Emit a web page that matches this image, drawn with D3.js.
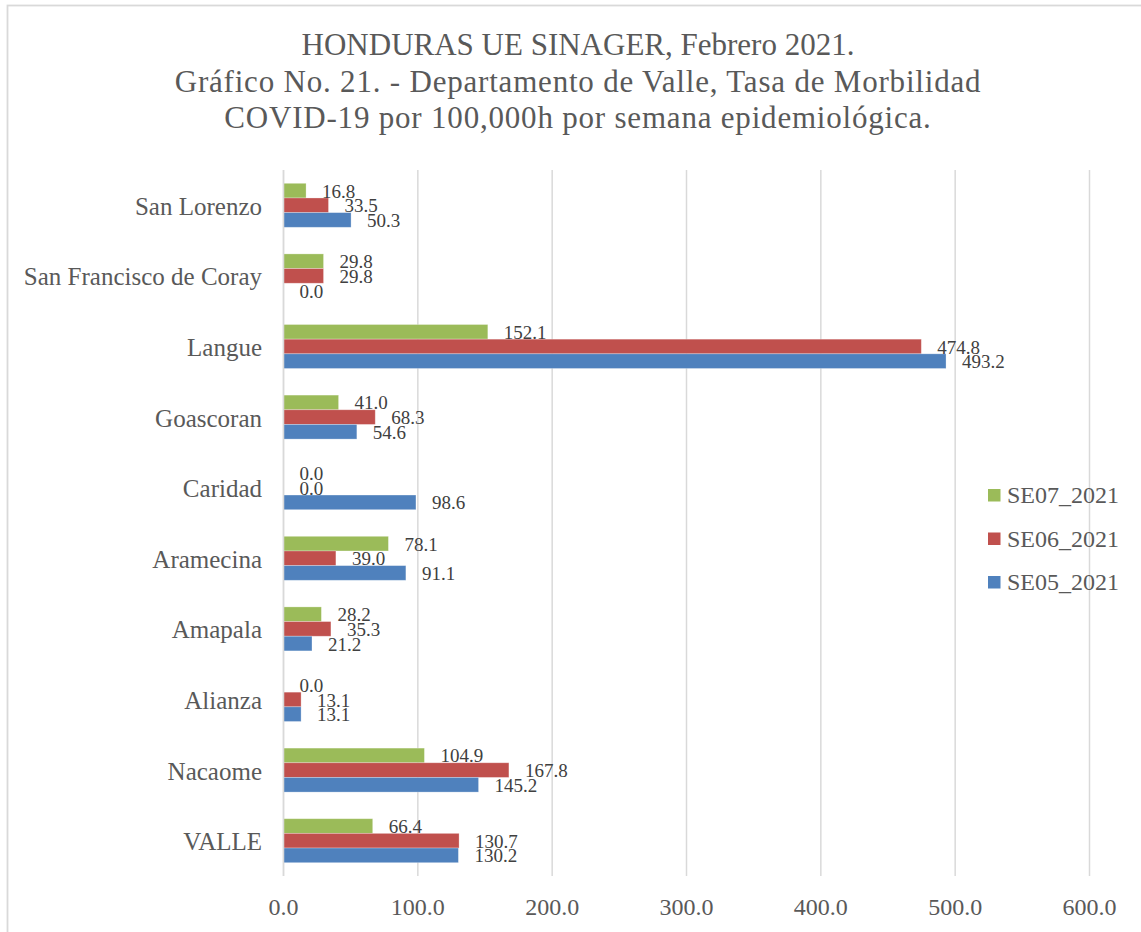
<!DOCTYPE html>
<html>
<head>
<meta charset="utf-8">
<script src="https://cdn.jsdelivr.net/npm/d3@7"></script>
<style>
  html, body { margin: 0; padding: 0; background: #fff; }
  svg { display: block; }
  text { font-family: "Liberation Serif", "DejaVu Serif", serif; }
</style>
</head>
<body>
<svg id="chart" width="1141" height="932"></svg>
<script>
// ---- data ----
const titleLines = [
  "HONDURAS UE SINAGER, Febrero 2021.",
  "Gráfico No. 21. - Departamento de Valle, Tasa de Morbilidad",
  "COVID-19 por 100,000h por semana epidemiológica."
];
// categories listed top to bottom
const categories = ["San Lorenzo", "San Francisco de Coray", "Langue", "Goascoran", "Caridad",
                    "Aramecina", "Amapala", "Alianza", "Nacaome", "VALLE"];
const seriesNames = ["SE07_2021", "SE06_2021", "SE05_2021"];
const se07 = [16.8, 29.8, 152.1, 41.0, 0.0, 78.1, 28.2, 0.0, 104.9, 66.4];
const se06 = [33.5, 29.8, 474.8, 68.3, 0.0, 39.0, 35.3, 13.1, 167.8, 130.7];
const se05 = [50.3, 0.0, 493.2, 54.6, 98.6, 91.1, 21.2, 13.1, 145.2, 130.2];
const xTicks = [0, 100, 200, 300, 400, 500, 600];
const colors = ["#9BBB59", "#C0504D", "#4F81BD"];

const seriesValues = [se07, se06, se05];

const svg = d3.select("#chart");

// outer chart frame
svg.append("rect")
  .attr("x", 7.5).attr("y", 5.5).attr("width", 1160).attr("height", 960)
  .attr("fill", "none").attr("stroke", "#d9d9d9").attr("stroke-width", 1.8);

// title
svg.append("g").selectAll("text").data(titleLines).join("text")
  .attr("x", 578).attr("y", (d, i) => [55, 92, 128][i])
  .attr("text-anchor", "middle")
  .attr("font-size", 31)
  .attr("letter-spacing", (d, i) => i === 0 ? 0 : 0.8)
  .attr("fill", "#595959")
  .text(d => d);

const x = d3.scaleLinear().domain([0, 600]).range([283.5, 1089.5]);
const y = d3.scaleBand().domain(categories).range([170, 876]).paddingInner(0.377).paddingOuter(0.1885);
const ySub = d3.scaleBand().domain(seriesNames).range([0, y.bandwidth()]);

// gridlines
svg.append("g").selectAll("line").data(xTicks).join("line")
  .attr("x1", d => x(d)).attr("x2", d => x(d))
  .attr("y1", 170).attr("y2", 876)
  .attr("stroke", "#d9d9d9").attr("stroke-width", 1.5);

// x tick labels
svg.append("g").selectAll("text").data(xTicks).join("text")
  .attr("x", d => x(d)).attr("y", 915)
  .attr("text-anchor", "middle")
  .attr("font-size", 24)
  .attr("fill", "#595959")
  .text(d => d3.format(".1f")(d));

// category labels
svg.append("g").selectAll("text").data(categories).join("text")
  .attr("x", 262).attr("y", d => y(d) + y.bandwidth() / 2 + 9.5)
  .attr("text-anchor", "end")
  .attr("font-size", 25)
  .attr("fill", "#595959")
  .text(d => d);

// bars + labels
const records = [];
categories.forEach((c, ci) => {
  seriesNames.forEach((s, si) => {
    records.push({ cat: c, series: s, si, value: seriesValues[si][ci] });
  });
});

svg.append("g").selectAll("rect").data(records).join("rect")
  .attr("x", x(0))
  .attr("y", d => y(d.cat) + ySub(d.series))
  .attr("width", d => x(d.value) - x(0))
  .attr("height", ySub.bandwidth())
  .attr("fill", d => colors[d.si])
  .attr("stroke", "rgba(255,255,255,0.35)")
  .attr("stroke-width", 0.8);

svg.append("g").selectAll("text").data(records).join("text")
  .attr("x", d => x(d.value) + 16)
  .attr("y", d => y(d.cat) + ySub(d.series) + ySub.bandwidth() / 2 + 7)
  .attr("font-size", 19)
  .attr("fill", "#404040")
  .text(d => d3.format(".1f")(d.value));

// axis line at zero
svg.append("line")
  .attr("x1", x(0)).attr("x2", x(0)).attr("y1", 170).attr("y2", 876)
  .attr("stroke", "#d9d9d9").attr("stroke-width", 1.5);

// legend
const legend = svg.append("g").selectAll("g").data(seriesNames).join("g")
  .attr("transform", (d, i) => `translate(988, ${489 + i * 43.5})`);
legend.append("rect")
  .attr("width", 12.5).attr("height", 12.5)
  .attr("fill", (d, i) => colors[i]);
legend.append("text")
  .attr("x", 19).attr("y", 14)
  .attr("font-size", 24)
  .attr("fill", "#595959")
  .text(d => d);
</script>
</body>
</html>
